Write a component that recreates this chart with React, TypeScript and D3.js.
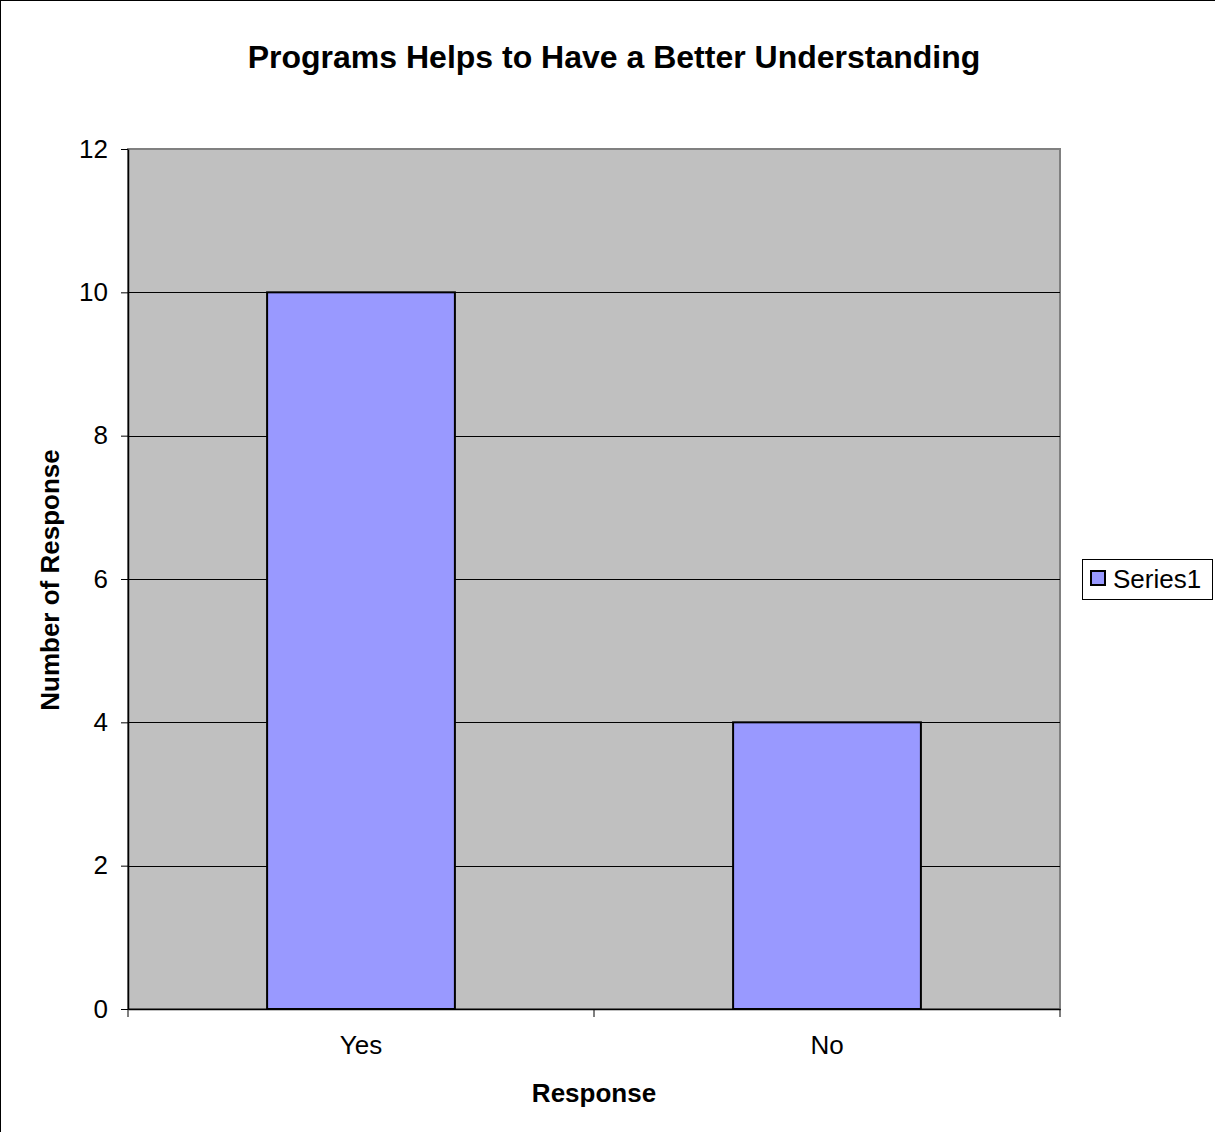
import React, { useEffect, useRef } from 'react';
import * as d3 from 'd3';

const categories = ['Yes', 'No'];
const values = [10, 4];
const yTicks = [0, 2, 4, 6, 8, 10, 12];
const seriesName = 'Series1';

const width = 1215;
const height = 1132;
const plot = { left: 128, top: 149, right: 1060, bottom: 1009 };

const App: React.FC = () => {
  const svgRef = useRef<SVGSVGElement>(null);

  useEffect(() => {
    if (!svgRef.current) return;
    const svg = d3.select(svgRef.current);
    svg.selectAll('*').remove();

    const font = 'Arial, "Liberation Sans", sans-serif';

    // outer chart border
    svg.append('rect')
      .attr('x', 0.5).attr('y', 0.5)
      .attr('width', width + 10).attr('height', height + 10)
      .attr('fill', '#fff').attr('stroke', '#000');

    const x = d3.scaleBand()
      .domain(categories)
      .range([plot.left, plot.right])
      .paddingInner(0.597)
      .paddingOuter(0.2985);

    const y = d3.scaleLinear()
      .domain([0, 12])
      .range([plot.bottom, plot.top]);

    // plot area
    svg.append('rect')
      .attr('x', plot.left).attr('y', plot.top)
      .attr('width', plot.right - plot.left).attr('height', plot.bottom - plot.top)
      .attr('fill', '#c0c0c0').attr('stroke', '#808080').attr('stroke-width', 2);

    // gridlines
    svg.append('g')
      .selectAll('line')
      .data(yTicks.filter(t => t > 0 && t < 12))
      .enter()
      .append('line')
      .attr('x1', plot.left).attr('x2', plot.right)
      .attr('y1', d => Math.round(y(d)) + 0.5).attr('y2', d => Math.round(y(d)) + 0.5)
      .attr('stroke', '#000').attr('stroke-width', 1);

    // bars
    svg.append('g')
      .selectAll('rect')
      .data(values)
      .enter()
      .append('rect')
      .attr('x', (_, i) => x(categories[i]) || 0)
      .attr('y', d => y(d))
      .attr('width', x.bandwidth())
      .attr('height', d => y(0) - y(d))
      .attr('fill', '#9999ff')
      .attr('stroke', '#000')
      .attr('stroke-width', 2);

    // y axis
    const yAxis = svg.append('g')
      .attr('transform', `translate(${plot.left},0)`)
      .call(d3.axisLeft(y).tickValues(yTicks).tickSize(7).tickPadding(13).tickSizeOuter(0));
    yAxis.select('.domain').attr('stroke', '#000').attr('stroke-width', 1.5);
    yAxis.selectAll('.tick line').attr('stroke', '#000');
    yAxis.selectAll('.tick text')
      .attr('font-family', font).attr('font-size', 26).attr('fill', '#000');

    // x axis
    const xAxis = svg.append('g')
      .attr('transform', `translate(0,${plot.bottom})`)
      .call(d3.axisBottom(x).tickSize(0).tickPadding(27));
    xAxis.select('.domain').attr('stroke', '#000').attr('stroke-width', 1.5);
    xAxis.selectAll('.tick text')
      .attr('font-family', font).attr('font-size', 26).attr('fill', '#000');

    // x category dividers
    const step = (plot.right - plot.left) / categories.length;
    svg.append('g')
      .selectAll('line')
      .data(d3.range(categories.length + 1))
      .enter()
      .append('line')
      .attr('x1', d => plot.left + d * step).attr('x2', d => plot.left + d * step)
      .attr('y1', plot.bottom).attr('y2', plot.bottom + 8)
      .attr('stroke', '#000');

    // title
    svg.append('text')
      .attr('x', 614).attr('y', 68)
      .attr('text-anchor', 'middle')
      .attr('font-family', font).attr('font-size', 32).attr('font-weight', 'bold')
      .text('Programs Helps to Have a Better Understanding');

    // axis titles
    svg.append('text')
      .attr('x', (plot.left + plot.right) / 2).attr('y', 1102)
      .attr('text-anchor', 'middle')
      .attr('font-family', font).attr('font-size', 26).attr('font-weight', 'bold')
      .text('Response');

    svg.append('text')
      .attr('transform', `translate(59,${(plot.top + plot.bottom) / 2 + 1}) rotate(-90)`)
      .attr('text-anchor', 'middle')
      .attr('font-family', font).attr('font-size', 26).attr('font-weight', 'bold')
      .text('Number of Response');

    // legend
    const lg = svg.append('g').attr('transform', 'translate(1082,559)');
    lg.append('rect')
      .attr('x', 0.5).attr('y', 0.5).attr('width', 130).attr('height', 40)
      .attr('fill', '#fff').attr('stroke', '#000');
    lg.append('rect')
      .attr('x', 9).attr('y', 12).attr('width', 14).attr('height', 14)
      .attr('fill', '#9999ff').attr('stroke', '#000').attr('stroke-width', 2);
    lg.append('text')
      .attr('x', 31).attr('y', 29)
      .attr('font-family', font).attr('font-size', 26)
      .text(seriesName);
  }, []);

  return (
    <svg
      ref={svgRef}
      width={width}
      height={height}
      style={{ position: 'absolute', left: 0, top: 0, display: 'block' }}
    />
  );
};

export default App;
